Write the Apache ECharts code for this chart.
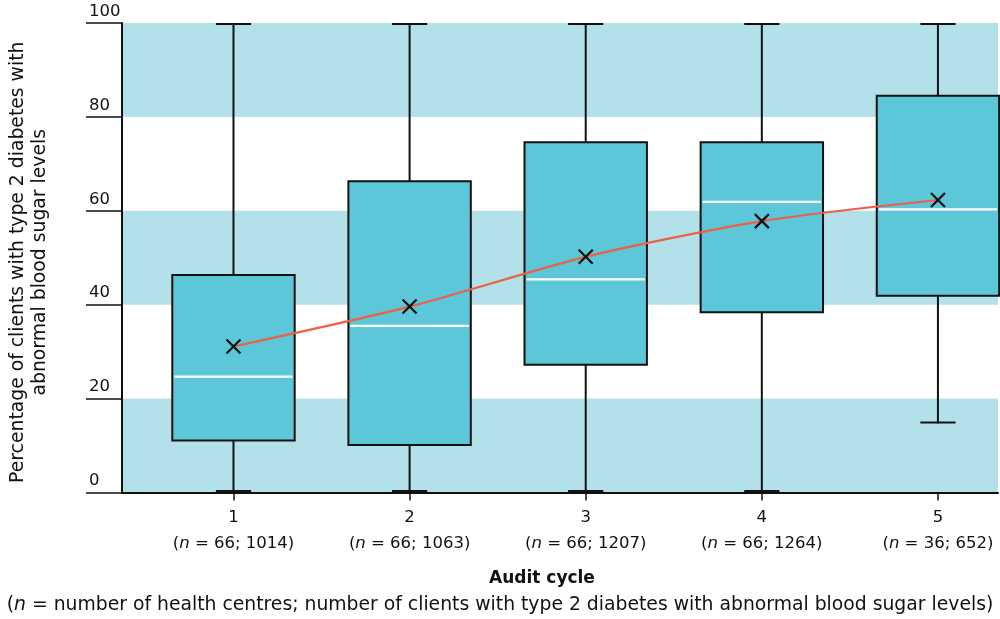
<!DOCTYPE html>
<html>
<head>
<meta charset="utf-8">
<script src="https://cdn.jsdelivr.net/npm/echarts@6/dist/echarts.min.js"></script>
<style>html,body{margin:0;padding:0;background:#fff;}#c{width:1000px;height:619px;}</style>
</head>
<body>
<div id="c"></div>
<script>
// ---- data ----
var cycles = [1, 2, 3, 4, 5];
var healthCentres = [66, 66, 66, 66, 36];
var clients = [1014, 1063, 1207, 1264, 652];
var mins = [0, 0, 0, 0, 14.7];
var q1s = [11.1, 10.1, 27.2, 38.4, 41.9];
var medians = [24.7, 35.5, 45.4, 61.9, 60.3];
var q3s = [46.3, 66.3, 74.6, 74.6, 84.5];
var maxs = [100, 100, 100, 100, 100];
var means = [31.1, 39.6, 50.2, 57.8, 62.3];
var bandRanges = [[0, 20], [40, 60], [80, 100]];

var FONT = '"DejaVu Sans",Verdana,sans-serif';

var boxData = cycles.map(function (c, i) {
  return [c, mins[i], q1s[i], medians[i], q3s[i], maxs[i]];
});
var meanData = cycles.map(function (c, i) { return [c, means[i]]; });

var BOX_W = 0.695, CAP_W = 0.2;

function renderBox(params, api) {
  var x = api.value(0);
  var pMin = api.coord([x, api.value(1)]);
  var pQ1 = api.coord([x, api.value(2)]);
  var pMed = api.coord([x, api.value(3)]);
  var pQ3 = api.coord([x, api.value(4)]);
  var pMax = api.coord([x, api.value(5)]);
  var bw = api.size([BOX_W, 0])[0];
  var cw = api.size([CAP_W, 0])[0];
  var cx = pMed[0];
  var ls = { stroke: '#111', lineWidth: 2 };
  return {
    type: 'group',
    children: [
      { type: 'line', shape: { x1: cx, y1: pMin[1], x2: cx, y2: pQ1[1] }, style: ls },
      { type: 'line', shape: { x1: cx, y1: pQ3[1], x2: cx, y2: pMax[1] }, style: ls },
      { type: 'line', shape: { x1: cx - cw / 2, y1: pMin[1] - 1, x2: cx + cw / 2, y2: pMin[1] - 1 }, style: { stroke: '#111', lineWidth: pMin[1] > 480 ? 3 : 2 } },
      { type: 'line', shape: { x1: cx - cw / 2, y1: pMax[1] + 1, x2: cx + cw / 2, y2: pMax[1] + 1 }, style: ls },
      { type: 'rect', shape: { x: cx - bw / 2, y: pQ3[1], width: bw, height: pQ1[1] - pQ3[1] },
        style: { fill: '#5bc7d9', stroke: '#111', lineWidth: 2 } },
      { type: 'line', shape: { x1: cx - bw / 2 + 2, y1: pMed[1], x2: cx + bw / 2 - 2, y2: pMed[1] },
        style: { stroke: '#ffffff', lineWidth: 2.2 } }
    ]
  };
}

function renderX(params, api) {
  var p = api.coord([api.value(0), api.value(1)]);
  var s = 7;
  var st = { stroke: '#111', lineWidth: 2.2 };
  return {
    type: 'group',
    children: [
      { type: 'line', shape: { x1: p[0] - s, y1: p[1] - s, x2: p[0] + s, y2: p[1] + s }, style: st },
      { type: 'line', shape: { x1: p[0] - s, y1: p[1] + s, x2: p[0] + s, y2: p[1] - s }, style: st }
    ]
  };
}

var chart = echarts.init(document.getElementById('c'), null, { renderer: 'canvas' });
chart.setOption({
  animation: false,
  backgroundColor: '#ffffff',
  grid: { left: 122, right: 2, top: 23, bottom: 126.5, containLabel: false, outerBoundsMode: 'none' },
  xAxis: {
    type: 'value', min: 0.367, max: 5.341, z: 6,
    splitLine: { show: false },
    axisLine: { show: true, onZero: false, lineStyle: { color: '#111', width: 2 } },
    axisTick: { show: true, customValues: cycles, length: 8, lineStyle: { color: '#111', width: 1.5 } },
    axisLabel: {
      customValues: cycles,
      margin: 12,
      formatter: function (v) {
        var i = cycles.indexOf(Math.round(v));
        if (i < 0) return '';
        return '{a|' + cycles[i] + '}\n{b|(}{i|n}{b| = ' + healthCentres[i] + '; ' + clients[i] + ')}';
      },
      rich: {
        a: { fontFamily: FONT, fontSize: 16.5, color: '#111', lineHeight: 26 },
        b: { fontFamily: FONT, fontSize: 16.5, color: '#111', lineHeight: 26 },
        i: { fontFamily: FONT, fontSize: 16.5, color: '#111', fontStyle: 'italic', lineHeight: 26 }
      }
    }
  },
  yAxis: {
    type: 'value', min: 0, max: 100, interval: 20, z: 6,
    splitLine: { show: false },
    axisLine: { show: true, onZero: false, lineStyle: { color: '#111', width: 2 } },
    axisTick: { show: true, length: 36, lineStyle: { color: '#111', width: 1.5 } },
    axisLabel: {
      margin: 33, align: 'left', verticalAlign: 'bottom', padding: [0, 0, 3, 0],
      fontFamily: FONT, fontSize: 16.5, color: '#111'
    },
    name: 'Percentage of clients with type 2 diabetes with\nabnormal blood sugar levels',
    nameLocation: 'middle', nameGap: 71, nameRotate: 90,
    nameTextStyle: { fontFamily: FONT, fontSize: 18.8, color: '#111', lineHeight: 22, align: 'center', padding: [0, 0, 0, -9] }
  },
  series: [
    {
      type: 'line', data: [], silent: true,
      markArea: {
        silent: true,
        itemStyle: { color: '#b3e1e9' },
        data: bandRanges.map(function (r) { return [{ yAxis: r[0] }, { yAxis: r[1] }]; })
      },
      z: 1
    },
    {
      type: 'custom', renderItem: renderBox, data: boxData, z: 3,
      encode: { x: 0, y: [1, 2, 3, 4, 5] }
    },
    {
      type: 'line', data: meanData, smooth: 0.25, showSymbol: false, symbol: 'none',
      lineStyle: { color: '#ee5f45', width: 2.2 }, z: 4
    },
    {
      type: 'custom', renderItem: renderX, data: meanData, z: 5,
      encode: { x: 0, y: 1 }
    }
  ],
  graphic: [
    { type: 'text', left: 489, top: 570, style: { text: 'Audit cycle', font: '600 17px ' + FONT, fill: '#111' } },
    {
      type: 'text', left: 'center', top: 596,
      style: {
        text: '{b|(}{i|n}{b| = number of health centres; number of clients with type 2 diabetes with abnormal blood sugar levels)}',
        rich: {
          b: { font: '18.8px ' + FONT, fill: '#111' },
          i: { font: 'italic 18.8px ' + FONT, fill: '#111' }
        }
      }
    }
  ]
});
</script>
</body>
</html>
